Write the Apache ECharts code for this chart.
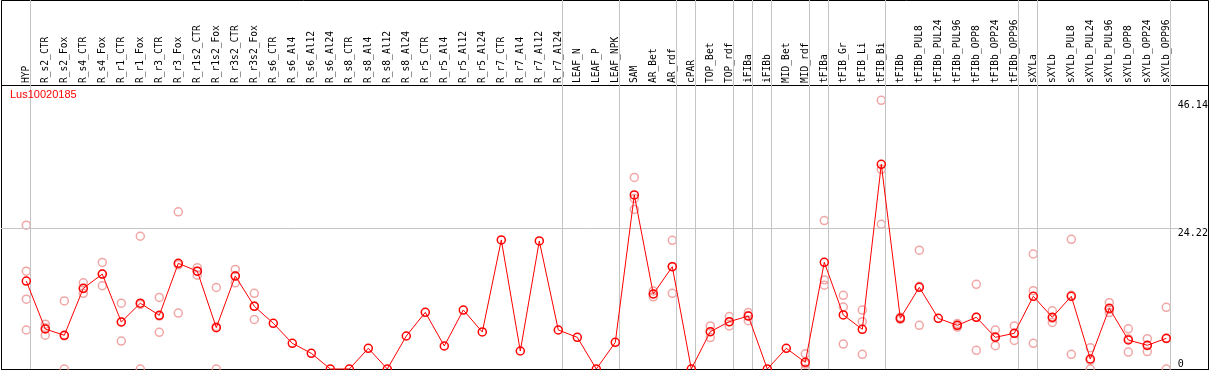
<!DOCTYPE html>
<html><head><meta charset="utf-8">
<script src="https://cdn.jsdelivr.net/npm/echarts@6/dist/echarts.min.js"></script>
<style>html,body{margin:0;padding:0;background:#fff}#c{width:1209px;height:370px}</style>
</head><body><div id="c"></div>
<script>
const titleText = 'Lus10020185';
const categories = ['HYP','R_s2_CTR','R_s2_Fox','R_s4_CTR','R_s4_Fox','R_r1_CTR','R_r1_Fox','R_r3_CTR','R_r3_Fox','R_r1s2_CTR','R_r1s2_Fox','R_r3s2_CTR','R_r3s2_Fox','R_s6_CTR','R_s6_Al4','R_s6_Al12','R_s6_Al24','R_s8_CTR','R_s8_Al4','R_s8_Al12','R_s8_Al24','R_r5_CTR','R_r5_Al4','R_r5_Al12','R_r5_Al24','R_r7_CTR','R_r7_Al4','R_r7_Al12','R_r7_Al24','LEAF_N','LEAF_P','LEAF_NPK','SAM','AR_Bet','AR_rdf','cPAR','TOP_Bet','TOP_rdf','iFIBa','iFIBb','MID_Bet','MID_rdf','tFIBa','tFIB_Gr','tFIB_Li','tFIB_Bi','tFIBb','tFIBb_PUL8','tFIBb_PUL24','tFIBb_PUL96','tFIBb_OPP8','tFIBb_OPP24','tFIBb_OPP96','sXYLa','sXYLb','sXYLb_PUL8','sXYLb_PUL24','sXYLb_PUL96','sXYLb_OPP8','sXYLb_OPP24','sXYLb_OPP96'];
const meanValues = [15.1,6.87,5.79,13.86,16.3,8.07,11.3,9.22,18.15,16.8,7.1,15.97,10.77,7.85,4.41,2.7,0,0,3.55,0,5.67,9.73,3.95,10.13,6.36,22.16,3.09,21.99,6.7,5.44,0,4.58,29.89,12.88,17.57,0,6.41,8.13,9.1,0,3.55,1.15,18.33,9.28,6.82,35.16,8.7,14.03,8.7,7.5,8.88,5.44,6.13,12.49,8.88,12.49,1.72,10.43,4.98,4.07,5.27];
const replicateValues = [
  [24.7,16.8,12.0,6.7],[7.7,7.1,5.8],[11.7,5.7,0],[14.8,13.8,13.0],[18.3,16.3,14.3],
  [11.3,8.1,4.8],[22.8,11.1,0],[12.3,9.1,6.3],[27.0,17.9,9.6],[17.4,16.8,16.1],
  [14.0,7.3,0],[17.1,16.0,14.8],[13.0,10.8,8.5],[],[],
  [],[],[],[],[],
  [],[],[],[],[],
  [],[],[],[],[],
  [],[],[32.9,29.3,27.4],[13.4,12.9,12.4],[22.1,17.6,13.0],
  [],[7.4,6.4,5.4],[9.0,8.1,7.4],[9.7,9.2,8.3],[],
  [],[2.6,0.85,0],[25.5,15.3,14.4],[12.66,10.65,4.29],[10.13,8.13,2.52],
  [46.14,34.3,24.86],[8.9,8.7,8.5],[20.4,14.2,7.5],[],[7.8,7.5,7.2],
  [14.55,8.9,3.2],[6.7,5.6,4.0],[7.4,6.1,4.9],[19.75,13.45,4.41],[10.0,8.7,8.0],
  [22.28,12.67,2.52],[3.66,1.5,0],[11.4,10.2,9.7],[6.9,5.2,2.9],[5.2,4.0,3.0],
  [10.6,5.2,0]
];
const yTickValues = [0, 24.22, 46.14];
const referenceLineValue = 24.22;
const groupBoundaryAfter = [-1,0,28,31,34,35,37,38,39,41,42,45,52,53,60];

const Y_MAX = 48.78;
const PL = 16.8, PR = 33.2, PT = 85, PB = 1;
const boundaryShift = 0.23;

const replicatePoints = [];
replicateValues.forEach((arr, i) => arr.forEach(v => replicatePoints.push([i, v])));

const G = {outerBoundsMode: 'none', containLabel: false};
const chart = echarts.init(document.getElementById('c'), null, {renderer: 'canvas'});
chart.setOption({
  animation: false,
  backgroundColor: '#fff',
  title: {text: titleText, left: 10, top: 89, padding: 0,
    textStyle: {color: '#ff0000', fontSize: 11, fontWeight: 'normal', fontFamily: 'Liberation Sans'}},
  grid: [
    Object.assign({left: PL, right: PR, top: PT, bottom: PB}, G),
    Object.assign({left: PL, right: PR, top: 0, bottom: PB}, G),
    Object.assign({left: 1, right: 31, top: PT, bottom: PB}, G),
    Object.assign({left: 1.5, right: 0.5, top: 0.5, bottom: 0.5, show: true, borderColor: '#000', borderWidth: 1, backgroundColor: 'transparent'}, G),
    Object.assign({left: 1.5, right: 0.5, top: 85.5, bottom: 0.5, show: true, borderColor: '#000', borderWidth: 1, backgroundColor: 'transparent'}, G)
  ],
  xAxis: [
    {type: 'category', gridIndex: 0, data: categories, position: 'top', boundaryGap: true,
     axisLine: {show: false}, axisTick: {show: false}, splitLine: {show: false},
     axisLabel: {rotate: 90, interval: 0, margin: 2, fontFamily: 'DejaVu Sans Mono', fontSize: 9.6, color: '#000'}},
    {type: 'value', gridIndex: 1, min: -0.5, max: 60.5, show: false},
    {type: 'value', gridIndex: 2, min: 0, max: 1, show: false},
    {type: 'value', gridIndex: 3, show: false},
    {type: 'value', gridIndex: 4, show: false}
  ],
  yAxis: [
    {type: 'value', gridIndex: 0, position: 'right', min: 0, max: Y_MAX,
     axisLine: {show: false}, axisTick: {show: false}, splitLine: {show: false},
     axisLabel: {customValues: yTickValues, margin: 2, align: 'left', verticalAlign: 'middle',
       fontFamily: 'DejaVu Sans Mono', fontSize: 10, color: '#000',
       formatter: v => v === 0 ? '{b|0}' : '{t|' + v + '}',
       rich: {t: {padding: [10,0,0,0], lineHeight: 10, fontFamily: 'DejaVu Sans Mono', fontSize: 10, color: '#000'},
              b: {padding: [0,0,10,0], lineHeight: 10, fontFamily: 'DejaVu Sans Mono', fontSize: 10, color: '#000'}}}},
    {type: 'value', gridIndex: 1, min: 0, max: 1, show: false},
    {type: 'value', gridIndex: 2, min: 0, max: Y_MAX, show: false},
    {type: 'value', gridIndex: 3, show: false},
    {type: 'value', gridIndex: 4, show: false}
  ],
  series: [
    {type: 'line', xAxisIndex: 1, yAxisIndex: 1, data: [], silent: true, z: 1,
     markLine: {symbol: 'none', silent: true, label: {show: false}, animation: false,
       lineStyle: {color: '#c4c4c4', width: 1, type: 'solid'},
       data: groupBoundaryAfter.map(b => ({xAxis: b + boundaryShift}))}},
    {type: 'line', xAxisIndex: 2, yAxisIndex: 2, data: [], silent: true, z: 1,
     markLine: {symbol: 'none', silent: true, label: {show: false}, animation: false,
       lineStyle: {color: '#c4c4c4', width: 1, type: 'solid'},
       data: [{yAxis: referenceLineValue}]}},
    {type: 'scatter', xAxisIndex: 0, yAxisIndex: 0, data: replicatePoints, symbol: 'circle', symbolSize: 8,
     clip: false, z: 3, silent: true,
     itemStyle: {color: 'rgba(0,0,0,0)', borderColor: '#ee9090', borderWidth: 1.5}},
    {type: 'line', xAxisIndex: 0, yAxisIndex: 0, data: meanValues, symbol: 'circle', symbolSize: 8,
     showAllSymbol: true, clip: false, z: 5, silent: true,
     lineStyle: {color: '#ff0000', width: 1},
     itemStyle: {color: 'rgba(0,0,0,0)', borderColor: '#ff0000', borderWidth: 1.5}}
  ]
});
</script>
</body></html>
